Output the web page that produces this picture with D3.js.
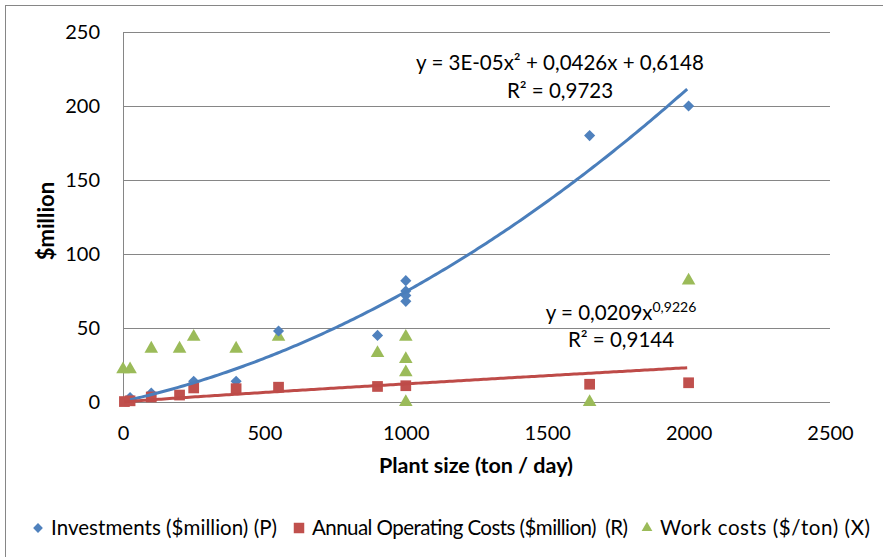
<!DOCTYPE html>
<html>
<head>
<meta charset="utf-8">
<script src="https://cdn.jsdelivr.net/npm/d3@7"></script>
<style>
  body { margin: 0; background: #fff; }
  text { font-family: Lato, "Open Sans", sans-serif; fill: #000; }
</style>
</head>
<body>
<script>
// plant size (ton/day) for each series
const investX = [25, 100, 250, 400, 550, 900, 1000, 1000, 1000, 1000, 1650, 2000];
const investY = [3, 6, 14, 14, 48, 45, 82, 75, 72, 68, 180, 200];

const opX = [5, 25, 100, 200, 250, 400, 550, 900, 1000, 1650, 2000];
const opY = [0.3, 0.8, 3.4, 4.7, 9.5, 9, 10, 10.5, 11, 12, 13];

const workX = [0, 25, 100, 200, 250, 400, 550, 900, 1000, 1000, 1000, 1000, 1650, 2000];
const workY = [22, 22, 36, 36, 44, 36, 44, 33, 44, 29, 20, 0, 0, 82];

const xTicks = [0, 500, 1000, 1500, 2000, 2500];
const yTicks = [0, 50, 100, 150, 200, 250];

// power trendline as shown on the chart
const powerCoef = 0.0209, powerExp = 0.9226;

const legendLabels = [
  'Investments ($million) (P)',
  'Annual Operating Costs ($million)  (R)',
  'Work costs ($/ton) (X)'
];

const width = 883, height = 557;
const blue = '#4F81BD', red = '#C0504D', green = '#9BBB59', grid = '#868686';

const svg = d3.select('body').append('svg')
  .attr('width', width)
  .attr('height', height);

// chart border (cropped on right / bottom)
svg.append('rect')
  .attr('x', 5.5).attr('y', 5.5)
  .attr('width', 1000).attr('height', 1000)
  .attr('fill', 'none')
  .attr('stroke', grid);

const x = d3.scaleLinear().domain([0, 2500]).range([123, 830]);
const y = d3.scaleLinear().domain([0, 250]).range([402, 32]);

// gridlines
svg.append('g').selectAll('line')
  .data(yTicks)
  .enter().append('line')
  .attr('x1', x(0)).attr('x2', x(2500))
  .attr('y1', (d) => Math.round(y(d)) + 0.5)
  .attr('y2', (d) => Math.round(y(d)) + 0.5)
  .attr('stroke', grid)
  .attr('stroke-width', 1);

svg.append('line')
  .attr('x1', x(0) + 0.5).attr('x2', x(0) + 0.5)
  .attr('y1', y(250)).attr('y2', y(0))
  .attr('stroke', grid);

// axes labels (no tick marks)
const yAxis = d3.axisLeft(y).tickValues(yTicks).tickSize(0).tickPadding(23);
svg.append('g')
  .attr('transform', `translate(${x(0)},0)`)
  .call(yAxis)
  .call((g) => g.select('.domain').remove())
  .selectAll('text')
  .style('font-size', '20px')
  .style('font-family', 'Lato');

const xAxis = d3.axisBottom(x).tickValues(xTicks).tickFormat(d3.format('d'))
  .tickSize(0).tickPadding(24);
svg.append('g')
  .attr('transform', `translate(0,${y(0)})`)
  .call(xAxis)
  .call((g) => g.select('.domain').remove())
  .selectAll('text')
  .style('font-size', '20px')
  .style('font-family', 'Lato');

svg.append('text')
  .attr('x', 476).attr('y', 473)
  .attr('text-anchor', 'middle')
  .style('font-size', '21.5px')
  .style('font-weight', 'bold')
  .text('Plant size (ton / day)');

svg.append('text')
  .attr('transform', 'translate(54,221) rotate(-90)')
  .attr('text-anchor', 'middle')
  .style('font-size', '22px')
  .style('font-weight', 'bold')
  .text('$million');

// quadratic least squares fit for investments
function quadFit(xs, ys) {
  const s = [0, 0, 0, 0, 0];
  const t = [0, 0, 0];
  xs.forEach((xv, i) => {
    for (let k = 0; k < 5; k++) s[k] += Math.pow(xv, k);
    for (let k = 0; k < 3; k++) t[k] += Math.pow(xv, k) * ys[i];
  });
  const m = [
    [s[0], s[1], s[2], t[0]],
    [s[1], s[2], s[3], t[1]],
    [s[2], s[3], s[4], t[2]]
  ];
  for (let i = 0; i < 3; i++) {
    for (let j = i + 1; j < 3; j++) {
      const f = m[j][i] / m[i][i];
      for (let k = i; k < 4; k++) m[j][k] -= f * m[i][k];
    }
  }
  const c = [0, 0, 0];
  for (let i = 2; i >= 0; i--) {
    let v = m[i][3];
    for (let k = i + 1; k < 3; k++) v -= m[i][k] * c[k];
    c[i] = v / m[i][i];
  }
  return c; // c0 + c1 x + c2 x^2
}

const qc = quadFit(investX, investY);
const line = d3.line().x((d) => x(d[0])).y((d) => y(d[1]));

const xsBlue = d3.range(d3.min(investX), d3.max(investX) + 1, 10);
const xsRed = d3.range(d3.min(opX), d3.max(opX) + 1, 10);

// markers
const diamond = d3.symbol().type(d3.symbolSquare).size(62);
const square = d3.symbol().type(d3.symbolSquare).size(115);
const triangle = d3.symbol().type(d3.symbolTriangle).size(80);

svg.append('g').selectAll('path')
  .data(workX.map((v, i) => [v, workY[i]]))
  .enter().append('path')
  .attr('d', triangle)
  .attr('transform', (d) => `translate(${x(d[0])},${y(d[1])})`)
  .attr('fill', green);

svg.append('g').selectAll('path')
  .data(investX.map((v, i) => [v, investY[i]]))
  .enter().append('path')
  .attr('d', diamond)
  .attr('transform', (d) => `translate(${x(d[0])},${y(d[1])}) rotate(45)`)
  .attr('fill', blue);

svg.append('g').selectAll('path')
  .data(opX.map((v, i) => [v, opY[i]]))
  .enter().append('path')
  .attr('d', square)
  .attr('transform', (d) => `translate(${x(d[0])},${y(d[1])})`)
  .attr('fill', red);

// trendlines
svg.append('path')
  .datum(xsBlue.map((v) => [v, qc[0] + qc[1] * v + qc[2] * v * v]))
  .attr('d', line)
  .attr('fill', 'none')
  .attr('stroke', '#4A7EBB')
  .attr('stroke-width', 3);

svg.append('path')
  .datum(xsRed.map((v) => [v, powerCoef * Math.pow(v, powerExp)]))
  .attr('d', line)
  .attr('fill', 'none')
  .attr('stroke', '#BE4B48')
  .attr('stroke-width', 3);

// trendline equations
svg.append('text')
  .attr('x', 560).attr('y', 70)
  .attr('text-anchor', 'middle')
  .style('font-size', '20.5px')
  .text('y = 3E-05x² + 0,0426x + 0,6148');
svg.append('text')
  .attr('x', 560).attr('y', 98)
  .attr('text-anchor', 'middle')
  .style('font-size', '20.5px')
  .text('R² = 0,9723');

const eq2 = svg.append('text')
  .attr('x', 621).attr('y', 320)
  .attr('text-anchor', 'middle')
  .style('font-size', '20.5px');
eq2.append('tspan').text('y = 0,0209x');
eq2.append('tspan').attr('dy', -8).style('font-size', '14px').text('0,9226');
svg.append('text')
  .attr('x', 621).attr('y', 347)
  .attr('text-anchor', 'middle')
  .style('font-size', '20.5px')
  .text('R² = 0,9144');

// legend
const legend = svg.append('g');
const symbols = [
  { sym: d3.symbol().type(d3.symbolSquare).size(48), color: blue, rot: 45 },
  { sym: d3.symbol().type(d3.symbolSquare).size(110), color: red, rot: 0 },
  { sym: d3.symbol().type(d3.symbolTriangle).size(50), color: green, rot: 0 }
];
const legendX = [38, 299, 647];
const legendW = [226, 316, 210];
legendLabels.forEach((label, i) => {
  legend.append('path')
    .attr('d', symbols[i].sym)
    .attr('transform', `translate(${legendX[i]},528) rotate(${symbols[i].rot})`)
    .attr('fill', symbols[i].color);
  legend.append('text')
    .attr('x', legendX[i] + 13)
    .attr('y', 535)
    .attr('xml:space', 'preserve')
    .attr('textLength', legendW[i])
    .style('font-size', '20.5px')
    .text(label);
});
</script>
</body>
</html>
